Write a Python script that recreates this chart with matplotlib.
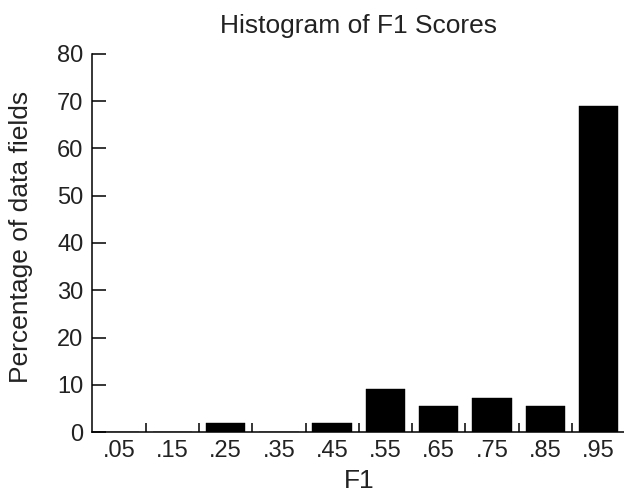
import matplotlib
matplotlib.use("Agg")
import matplotlib.pyplot as plt
import numpy as np

categories = [".05", ".15", ".25", ".35", ".45", ".55", ".65", ".75", ".85", ".95"]
percentages = [0.0, 0.0, 1.82, 0.0, 1.82, 9.09, 5.45, 7.27, 5.45, 69.09]

plt.rcParams['font.family'] = ['Liberation Sans', 'DejaVu Sans']
txt = '#222222'

fig = plt.figure(figsize=(6.24, 4.98), dpi=100)
ax = fig.add_axes([0.148, 0.1325, 0.854, 0.7591])

x = np.arange(len(categories)) + 0.5
ax.bar(x, percentages, width=0.74, color='black', edgecolor='black', linewidth=0.3)

ax.set_xlim(0, len(categories))
ax.set_ylim(0, 80)
ax.set_yticks(np.arange(0, 81, 10))
ax.set_xticks(np.arange(1, len(categories) + 1))
ax.set_xticklabels([])
ax.set_xticks(x, minor=True)
ax.set_xticklabels(categories, minor=True)

for s in ['top', 'right']:
    ax.spines[s].set_visible(False)
for s in ['left', 'bottom']:
    ax.spines[s].set_linewidth(1.1)

ax.tick_params(axis='y', direction='in', length=10, width=1.1, labelsize=17, colors='black', labelcolor=txt, pad=6.5)
ax.tick_params(axis='x', which='major', direction='in', length=6.5, width=1.1, colors='black')
ax.tick_params(axis='x', which='minor', length=0, labelsize=17, labelcolor=txt, pad=5.5)

ax.set_xlabel('F1', fontsize=19, color=txt, labelpad=5)
ax.set_ylabel('Percentage of data fields', fontsize=19, color=txt)
ax.yaxis.set_label_coords(-0.1107, 0.517)
ax.set_title('Histogram of F1 Scores', fontsize=19, color=txt, pad=15)

fig.savefig('out.png', dpi=100)
